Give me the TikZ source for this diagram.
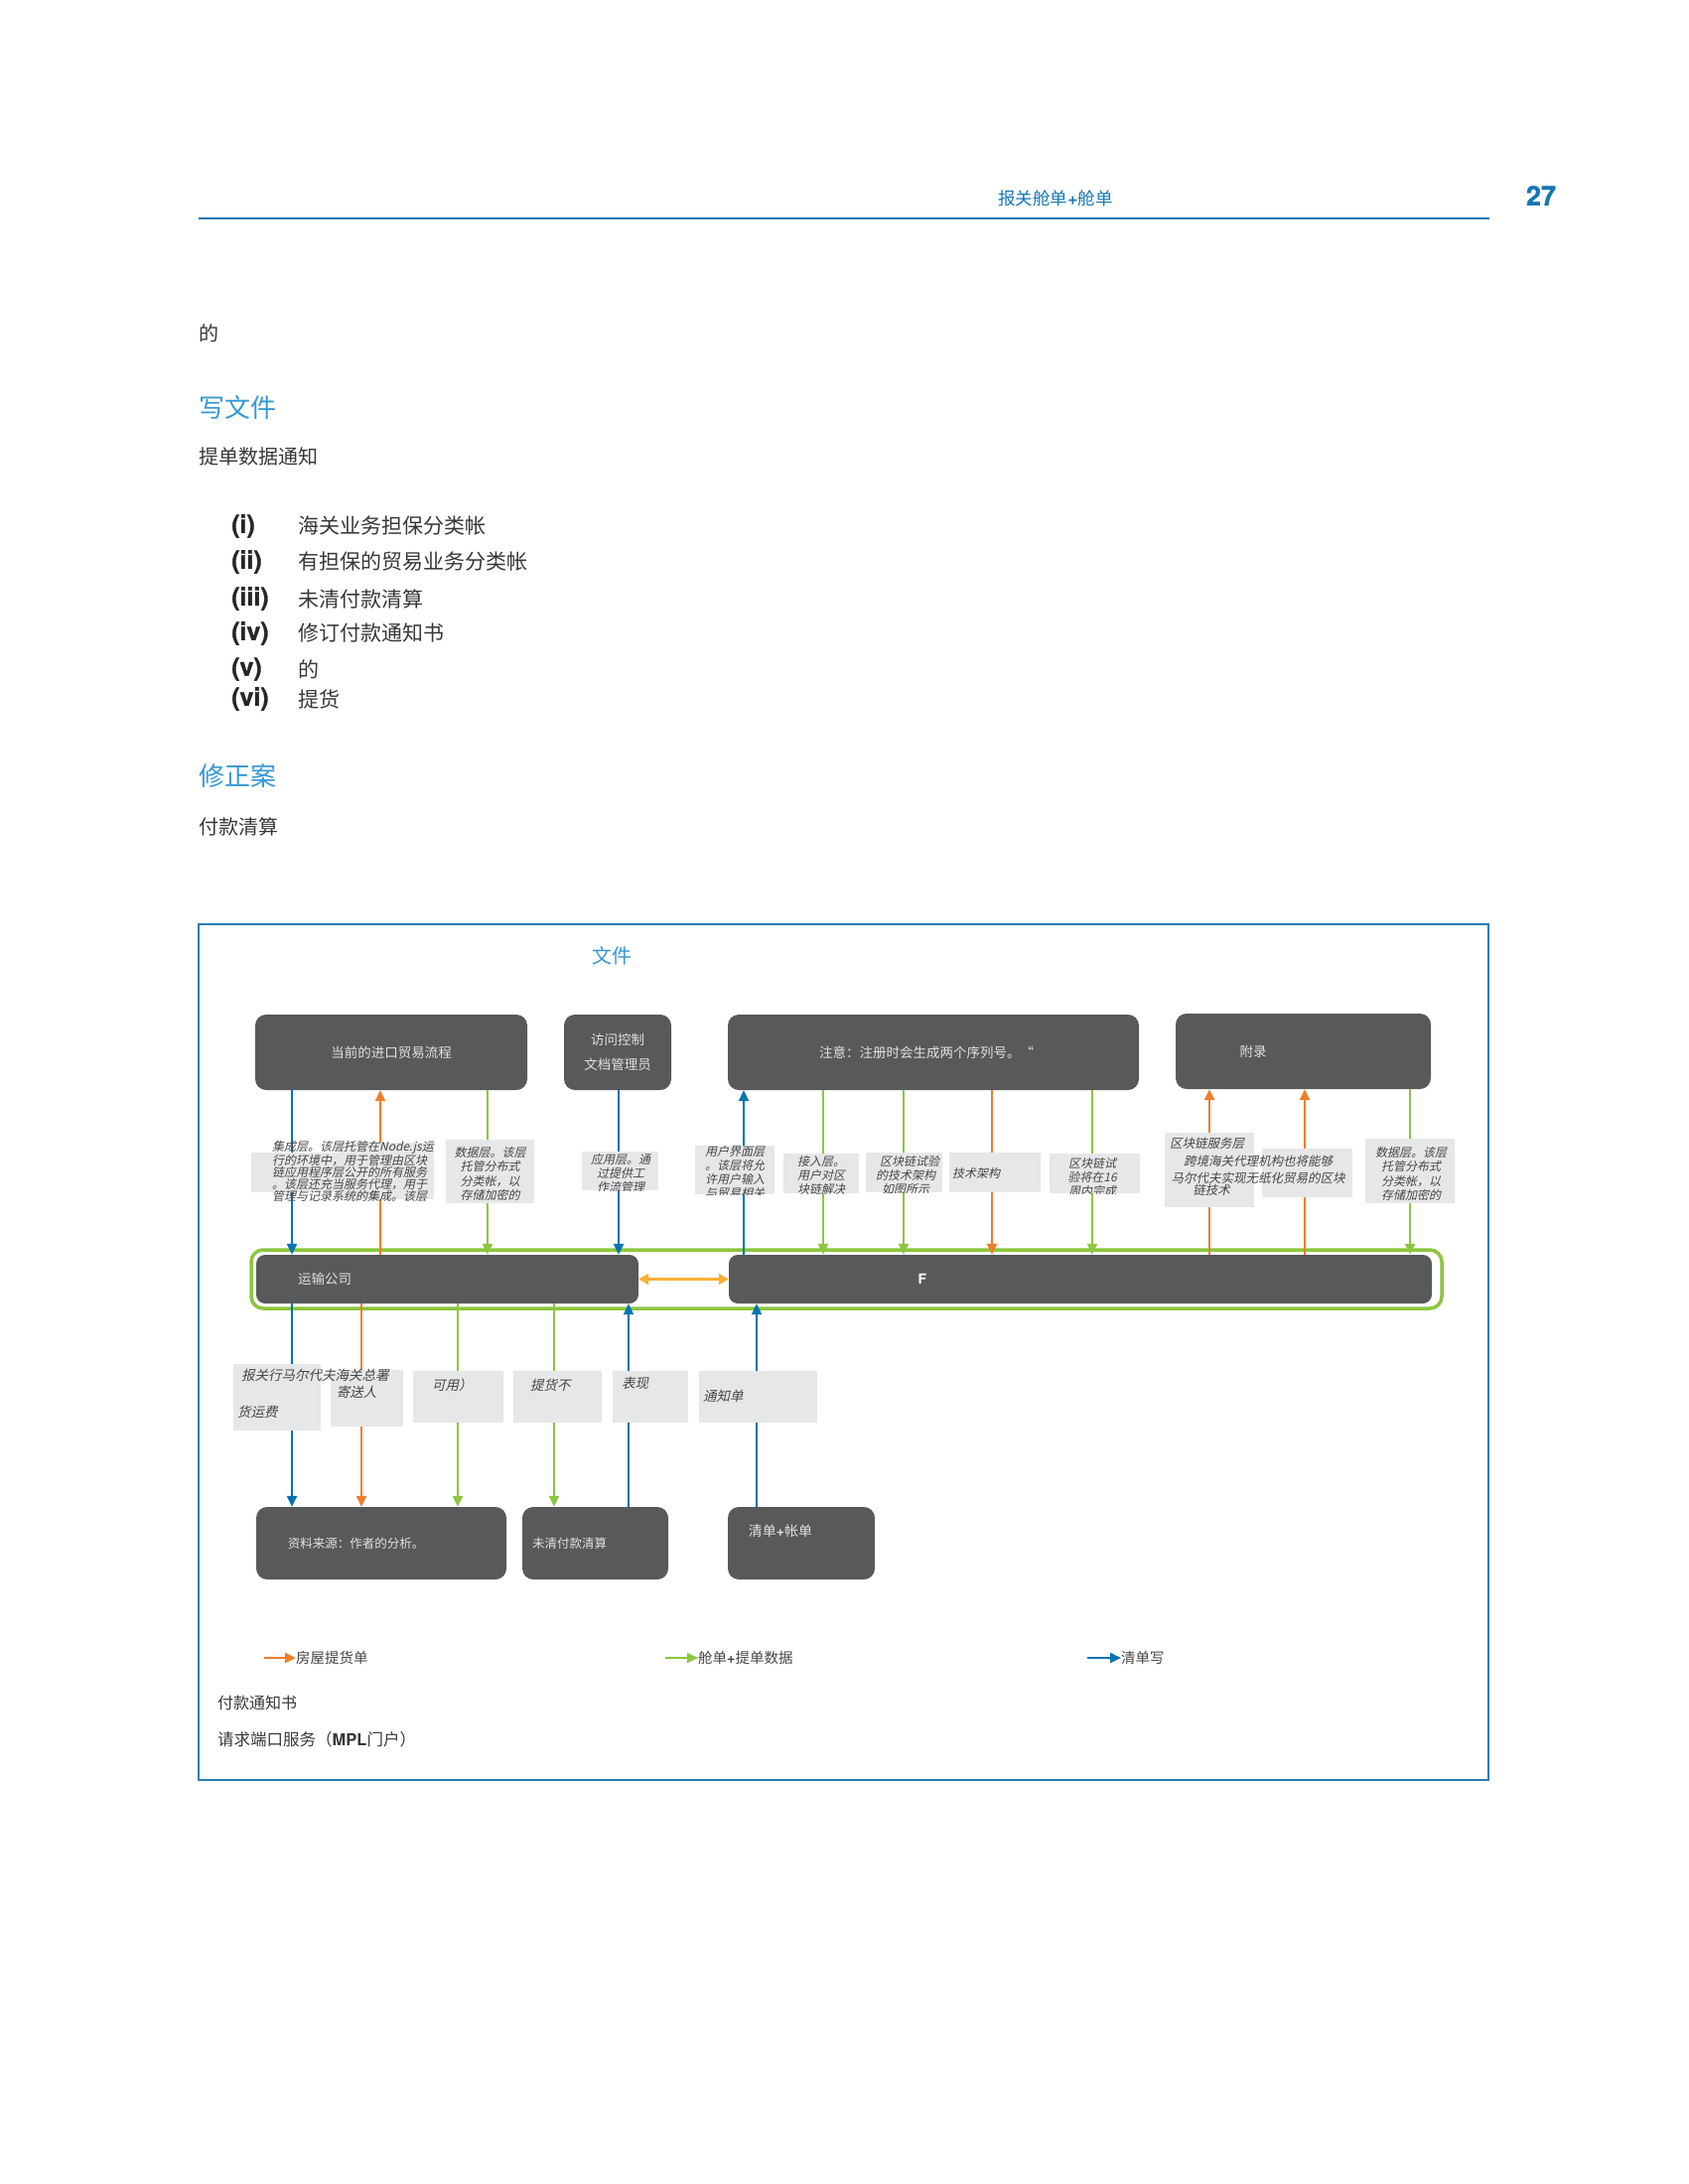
\documentclass[tikz,border=0pt]{standalone}
\usepackage{fontspec}
\setmainfont{Noto Sans CJK SC}
\newfontfamily\cjkit[FakeSlant=0.22]{Noto Sans CJK SC}
\newfontfamily\heros{TeX Gyre Heros}
\newfontfamily\herosheavy[FakeBold=1.2]{TeX Gyre Heros}
\usetikzlibrary{arrows.meta}
\definecolor{clrHead}{RGB}{22,118,180}
\definecolor{clrHeading}{RGB}{52,152,210}
\definecolor{clrFrame}{RGB}{40,125,180}
\definecolor{clrBox}{RGB}{88,89,91}
\definecolor{clrBoxTxt}{RGB}{225,225,225}
\definecolor{clrLab}{RGB}{230,231,232}
\definecolor{clrLabTxt}{RGB}{70,70,72}
\definecolor{clrBody}{RGB}{55,55,55}
\definecolor{clrOrange}{RGB}{240,125,40}
\definecolor{clrGreen}{RGB}{141,198,63}
\definecolor{clrBlue}{RGB}{0,115,178}
\definecolor{clrAmber}{RGB}{250,176,52}
\tikzset{
  txt/.style={inner sep=0pt, anchor=west, text=clrBody},
  dbox/.style={fill=clrBox, rounded corners=11pt, inner sep=0pt, text=clrBoxTxt,
               font=\fontsize{13.5}{16}\selectfont, align=center},
  boxtxt/.style={inner sep=0pt, text=clrBoxTxt, font=\fontsize{14}{16}\selectfont},
  labbox/.style={fill=clrLab, inner sep=0pt},
  labt/.style={inner sep=0pt, text=clrLabTxt, font=\cjkit\fontsize{12}{14.5}\selectfont, align=center},
  labi/.style={inner sep=0pt, text=clrLabTxt, font=\cjkit\fontsize{12.5}{15}\selectfont},
  labb/.style={inner sep=0pt, text=clrLabTxt, font=\cjkit\fontsize{13.5}{16}\selectfont, anchor=west},
  arr/.style={line width=2.2pt, -{Triangle[width=10pt,length=11pt]}},
  bluearr/.style={arr, draw=clrBlue},
  orangearr/.style={arr, draw=clrOrange},
  greenarr/.style={arr, draw=clrGreen},
  legtxt/.style={txt, text=clrLabTxt, font=\fontsize{14.5}{17}\selectfont},
}
\begin{document}
\begin{tikzpicture}[x=1pt,y=-1pt]
\useasboundingbox (0,0) rectangle (1700,2200);
\fill[white] (0,0) rectangle (1700,2200);

% header
\coordinate (hl) at (200,220);
\coordinate (hr) at (1500,220);
\draw[clrHead, line width=1.6pt] (hl) -- (hr);
\node[inner sep=0pt, text=clrHead, font=\fontsize{17.5}{20}\selectfont] (hd) at (1063,200) {报关舱单{\heros\bfseries +}舱单};
\node[inner sep=0pt, text=clrHead, font=\herosheavy\bfseries\fontsize{27}{30}\selectfont] (pg) at (1552,197) {27};

% body text
\node[txt, font=\fontsize{20}{24}\selectfont] (p1) at (200,336) {的};
\node[txt, text=clrHeading, font=\fontsize{26}{30}\selectfont] (h1) at (200,411) {写文件};
\node[txt, font=\fontsize{20}{24}\selectfont] (p2) at (200,460) {提单数据通知};
\foreach \lab/\t/\yy [count=\i] in {(i)/海关业务担保分类帐/530,(ii)/有担保的贸易业务分类帐/566,(iii)/未清付款清算/603,(iv)/修订付款通知书/638,(v)/的/674,(vi)/提货/704}{
  \node[txt, text=black!85, font=\herosheavy\bfseries\fontsize{25}{28}\selectfont] (li\i) at (233,\yy) {\lab};
  \node[txt, font=\fontsize{21}{24}\selectfont] (lt\i) at (300,\yy) {\t};
}
\node[txt, text=clrHeading, font=\fontsize{26}{30}\selectfont] (h2) at (200,782) {修正案};
\node[txt, font=\fontsize{20}{24}\selectfont] (p3) at (200,833) {付款清算};

% figure frame
\draw[clrFrame, line width=1.2pt] (200,931) rectangle (1499,1793);
\node[inner sep=0pt, text=clrHeading, font=\fontsize{20}{24}\selectfont] (ft) at (616,963) {文件};

% top boxes
\node[dbox, minimum width=274, minimum height=76] (b1) at (394,1060) {当前的进口贸易流程};
\node[dbox, minimum width=108, minimum height=76, font=\fontsize{13.5}{25}\selectfont] (b2) at (622,1060) {访问控制\\文档管理员};
\node[dbox, minimum width=414, minimum height=76] (b3) at (940,1060) {\hspace*{-14pt}注意：注册时会生成两个序列号。“};
\node[dbox, minimum width=257, minimum height=76] (b4) at (1312.5,1059) {\hspace*{-101pt}附录};

% middle band
\node[draw=clrGreen, line width=3.5pt, rounded corners=12pt, minimum width=1199, minimum height=59, inner sep=0pt] (band) at (852.5,1288.5) {};
\node[dbox, minimum width=385, minimum height=49, rounded corners=9pt] (m1) at (450.5,1288.5) {\hspace*{-247pt}运输公司};
\node[dbox, minimum width=708, minimum height=49, rounded corners=9pt, font=\heros\bfseries\fontsize{14}{16}\selectfont, text=white] (m2) at (1088,1288.5) {\hspace*{-318pt}F};
\draw[line width=2.5pt, draw=clrAmber, {Triangle[width=11pt,length=10pt]}-{Triangle[width=11pt,length=10pt]}] (m1.east) -- (m2.west);

% bottom boxes
\node[dbox, minimum width=252, minimum height=73, font=\fontsize{12.5}{15}\selectfont] (n1) at (384,1554.5) {\hspace*{-51pt}资料来源：作者的分析。};
\node[dbox, minimum width=147, minimum height=73, font=\fontsize{12.5}{15}\selectfont] (n2) at (599.5,1554.5) {\hspace*{-52pt}未清付款清算};
\node[dbox, minimum width=148, minimum height=73] (n3) at (807,1554.5) {};
\node[boxtxt] (n3t) at (786,1542) {清单{\heros\bfseries +}帐单};

% connector x positions
\foreach \n/\xx in {t1/294,t2/383,t3/491,t4/623,t5/749,t6/829,t7/910,t8/999,t9/1100,t10/1218,t11/1314,t12/1420,
                    u1/294,u2/364,u3/461,u4/558,u5/633,u6/762}{
  \coordinate (\n) at (\xx,0);
}
\draw[bluearr]   (b1.south -| t1) -- (m1.north -| t1);
\draw[orangearr] (m1.north -| t2) -- (b1.south -| t2);
\draw[greenarr]  (b1.south -| t3) -- (m1.north -| t3);
\draw[bluearr]   (b2.south -| t4) -- (m1.north -| t4);
\draw[bluearr]   (m2.north -| t5) -- (b3.south -| t5);
\draw[greenarr]  (b3.south -| t6) -- (m2.north -| t6);
\draw[greenarr]  (b3.south -| t7) -- (m2.north -| t7);
\draw[orangearr] (b3.south -| t8) -- (m2.north -| t8);
\draw[greenarr]  (b3.south -| t9) -- (m2.north -| t9);
\draw[orangearr] (m2.north -| t10) -- (b4.south -| t10);
\draw[orangearr] (m2.north -| t11) -- (b4.south -| t11);
\draw[greenarr]  (b4.south -| t12) -- (m2.north -| t12);
% bottom connectors
\draw[bluearr]   (m1.south -| u1) -- (n1.north -| u1);
\draw[orangearr] (m1.south -| u2) -- (n1.north -| u2);
\draw[greenarr]  (m1.south -| u3) -- (n1.north -| u3);
\draw[greenarr]  (m1.south -| u4) -- (n2.north -| u4);
\draw[bluearr]   (n2.north -| u5) -- (m1.south -| u5);
\draw[bluearr]   (n3.north -| u6) -- (m2.south -| u6);

% top labels
\node[labbox, minimum width=90, minimum height=40] (lA1) at (298,1181) {};
\node[labbox, minimum width=96, minimum height=57] (lA2) at (389,1179.5) {};
\node[labt, align=left, anchor=north west, font=\cjkit\fontsize{12}{11.3}\selectfont] (tA) at (274,1149)
  {集成层。该层托管在Node.js运\\行的环境中，用于管理由区块\\链应用程序层公开的所有服务\\。该层还充当服务代理，用于\\管理与记录系统的集成。该层};

\node[labbox, minimum width=89, minimum height=64] (lB) at (493.5,1180) {};
\begin{scope}
  \clip (lB.south west) rectangle (lB.north east);
  \node[labt, anchor=north] (tB) at (493.5,1155) {数据层。该层\\托管分布式\\分类帐，以\\存储加密的};
\end{scope}

\node[labbox, minimum width=77, minimum height=39] (lC) at (624.5,1179.5) {};
\begin{scope}
  \clip (lC.south west) rectangle (lC.north east);
  \node[labt, anchor=north, font=\cjkit\fontsize{12}{14}\selectfont] (tC) at (625,1162) {应用层。通\\过提供工\\作流管理};
\end{scope}

\node[labbox, minimum width=80, minimum height=49] (lD) at (740,1178.5) {};
\begin{scope}
  \clip (lD.south west) rectangle (lD.north east);
  \node[labt, anchor=north, font=\cjkit\fontsize{12}{14}\selectfont] (tD) at (740,1154) {用户界面层\\。该层将允\\许用户输入\\与贸易相关};
\end{scope}

\node[labbox, minimum width=76, minimum height=40] (lE) at (827,1182) {};
\begin{scope}
  \clip (lE.south west) rectangle (lE.north east);
  \node[labt, anchor=north, font=\cjkit\fontsize{12}{14}\selectfont] (tE) at (827,1164) {接入层。\\用户对区\\块链解决};
\end{scope}

\node[labbox, minimum width=77, minimum height=40] (lF) at (910.5,1181) {};
\begin{scope}
  \clip (lF.south west) rectangle (lF.north east);
  \node[labt, anchor=north, font=\cjkit\fontsize{12}{14}\selectfont] (tF) at (912,1164) {\hspace*{8pt}区块链试验\\的技术架构\\如图所示};
\end{scope}

\node[labbox, minimum width=92, minimum height=40] (lG) at (1002,1181) {};
\node[labt, anchor=west] (tG) at (959,1182) {技术架构};

\node[labbox, minimum width=91, minimum height=40] (lH) at (1102.5,1182) {};
\begin{scope}
  \clip (lH.south west) rectangle (lH.north east);
  \node[labt, anchor=north, font=\cjkit\fontsize{12}{14}\selectfont] (tH) at (1100,1166) {区块链试\\验将在16\\周内完成};
\end{scope}

\node[labbox, minimum width=90, minimum height=75] (lI1) at (1218,1178.5) {};
\node[labbox, minimum width=91, minimum height=49] (lI2) at (1316.5,1181.5) {};
\node[labi, anchor=west] (tI1) at (1178,1152) {区块链服务层};
\node[labi] (tI2) at (1267,1170) {跨境海关代理机构也将能够};
\node[labi] (tI3) at (1267,1187) {马尔代夫实现无纸化贸易的区块};
\node[labi] (tI4) at (1220,1199) {链技术};

\node[labbox, minimum width=90, minimum height=65] (lJ) at (1420,1179.5) {};
\begin{scope}
  \clip (lJ.south west) rectangle (lJ.north east);
  \node[labt, anchor=north] (tJ) at (1421,1155) {数据层。该层\\托管分布式\\分类帐，以\\存储加密的};
\end{scope}

% bottom labels
\node[labbox, minimum width=88, minimum height=67] (lL1) at (279,1407.5) {};
\node[labbox, minimum width=73, minimum height=57] (lL2) at (369.5,1408.5) {};
\node[labbox, minimum width=91, minimum height=52] (lL3) at (461.5,1407) {};
\node[labbox, minimum width=89, minimum height=52] (lL4) at (561.5,1407) {};
\node[labbox, minimum width=76, minimum height=52] (lL5) at (655,1407) {};
\node[labbox, minimum width=119, minimum height=52] (lL6) at (763.5,1407) {};
\node[labb] (tL1) at (243,1385) {报关行马尔代夫海关总署};
\node[labb, anchor=center] (tL2) at (359,1402) {寄送人};
\node[labb] (tL1b) at (239,1422) {货运费};
\node[labb] (tL3) at (435,1395) {可用）};
\node[labb] (tL4) at (534,1395) {提货不};
\node[labb] (tL5) at (626,1393) {表现};
\node[labb] (tL6) at (708,1406) {通知单};

% legend
\coordinate (lgo1) at (266,1670);
\node[legtxt] (lgo) at (298,1670) {房屋提货单};
\draw[orangearr] (lgo1) -- (lgo.west);
\coordinate (lgg1) at (670,1670);
\node[legtxt] (lgg) at (703,1670) {舱单{\heros\bfseries +}提单数据};
\draw[greenarr] (lgg1) -- (lgg.west);
\coordinate (lgb1) at (1095,1670);
\node[legtxt] (lgb) at (1129,1670) {清单写};
\draw[bluearr] (lgb1) -- (lgb.west);

\node[txt, font=\fontsize{16}{19}\selectfont] (f1) at (219,1715) {付款通知书};
\node[txt, font=\fontsize{16.5}{19}\selectfont] (f2) at (219,1752) {请求端口服务（{\heros\bfseries MPL}门户）};
\end{tikzpicture}
\end{document}
